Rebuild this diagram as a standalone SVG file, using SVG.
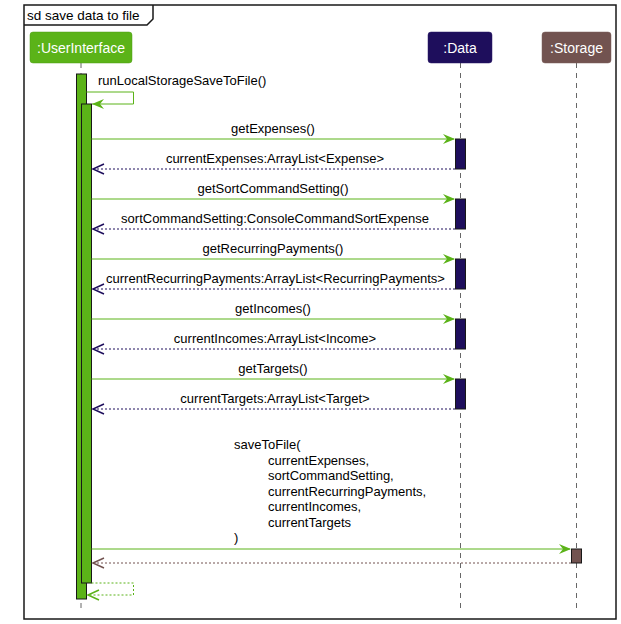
<svg xmlns="http://www.w3.org/2000/svg" width="621" height="624" viewBox="0 0 621 624">
<defs>
<style>
text{font-family:"Liberation Sans",Arial,sans-serif;font-size:13px;fill:#000}
.pt{font-size:14px;fill:#fff;text-anchor:middle}
.c{text-anchor:middle}
.life{stroke:#666;stroke-width:1;stroke-dasharray:5,5;fill:none}
.call{stroke:#5BB318;stroke-width:1;fill:none}
.retD{stroke:#1E0E5C;stroke-width:1;stroke-dasharray:2,2;fill:none}
.retS{stroke:#725350;stroke-width:1;stroke-dasharray:2,2;fill:none}
.retU{stroke:#5BB318;stroke-width:1;stroke-dasharray:2,2;fill:none}
.act{stroke:#181818;stroke-width:1}
</style>
</defs>
<rect width="621" height="624" fill="#fff"/>
<g id="frame">
<rect x="24" y="5" width="592" height="614" fill="none" stroke="#181818" stroke-width="1.5"/>
<path d="M24,25 L147,25 L153,19 L153,5" fill="none" stroke="#181818" stroke-width="1.5"/>
<text x="27" y="20" style="font-size:13.5px">sd save data to file</text>
</g>
<g id="lifelines">
<line class="life" x1="81" y1="63" x2="81" y2="608"/>
<line class="life" x1="460.5" y1="63" x2="460.5" y2="608"/>
<line class="life" x1="576.5" y1="63" x2="576.5" y2="608"/>
</g>
<g id="UserInterface">
<rect x="30" y="32" width="102" height="31" rx="3" fill="#5BB318" stroke="#4f9c15" stroke-width="0.5"/>
<text class="pt" x="81" y="53">:UserInterface</text>
<rect class="act" x="76.5" y="74" width="10" height="525" fill="#5BB318"/>
<rect class="act" x="81.5" y="104" width="10" height="479" fill="#5BB318"/>
</g>
<g id="Data">
<rect x="428" y="32" width="64" height="31" rx="3" fill="#1E0E5C" stroke="#2a1a66" stroke-width="0.5"/>
<text class="pt" x="460" y="53">:Data</text>
<rect class="act" x="455.5" y="139" width="10" height="30" fill="#1E0E5C"/>
<rect class="act" x="455.5" y="199" width="10" height="30" fill="#1E0E5C"/>
<rect class="act" x="455.5" y="259" width="10" height="30" fill="#1E0E5C"/>
<rect class="act" x="455.5" y="319" width="10" height="30" fill="#1E0E5C"/>
<rect class="act" x="455.5" y="379" width="10" height="30" fill="#1E0E5C"/>
</g>
<g id="Storage">
<rect x="542" y="32" width="69" height="31" rx="3" fill="#725350" stroke="#7d605d" stroke-width="0.5"/>
<text class="pt" x="576.5" y="53">:Storage</text>
<rect class="act" x="571.5" y="549" width="10" height="14" fill="#725350"/>
</g>
<g id="connectors">
<path class="call" d="M86.5,92 L133.5,92 L133.5,104 L92,104"/>
<polygon points="92,104 104,99 100,104 104,109" fill="#5BB318"/>
<text x="98" y="85">runLocalStorageSaveToFile()</text>

<line class="call" x1="91.5" y1="139" x2="454" y2="139"/>
<polygon points="455,139 443,134 447,139 443,144" fill="#5BB318"/>
<text class="c" x="273" y="133">getExpenses()</text>
<line class="retD" x1="455" y1="169" x2="93" y2="169"/>
<polyline points="104,164 93,169 104,174" fill="none" stroke="#1E0E5C" stroke-width="1.5"/>
<text class="c" x="275" y="163">currentExpenses:ArrayList&lt;Expense&gt;</text>

<line class="call" x1="91.5" y1="199" x2="454" y2="199"/>
<polygon points="455,199 443,194 447,199 443,204" fill="#5BB318"/>
<text class="c" x="273" y="193">getSortCommandSetting()</text>
<line class="retD" x1="455" y1="229" x2="93" y2="229"/>
<polyline points="104,224 93,229 104,234" fill="none" stroke="#1E0E5C" stroke-width="1.5"/>
<text class="c" x="275" y="223">sortCommandSetting:ConsoleCommandSortExpense</text>

<line class="call" x1="91.5" y1="259" x2="454" y2="259"/>
<polygon points="455,259 443,254 447,259 443,264" fill="#5BB318"/>
<text class="c" x="273" y="253">getRecurringPayments()</text>
<line class="retD" x1="455" y1="289" x2="93" y2="289"/>
<polyline points="104,284 93,289 104,294" fill="none" stroke="#1E0E5C" stroke-width="1.5"/>
<text class="c" x="275.5" y="283">currentRecurringPayments:ArrayList&lt;RecurringPayments&gt;</text>

<line class="call" x1="91.5" y1="319" x2="454" y2="319"/>
<polygon points="455,319 443,314 447,319 443,324" fill="#5BB318"/>
<text class="c" x="273" y="313">getIncomes()</text>
<line class="retD" x1="455" y1="349" x2="93" y2="349"/>
<polyline points="104,344 93,349 104,354" fill="none" stroke="#1E0E5C" stroke-width="1.5"/>
<text class="c" x="275" y="343">currentIncomes:ArrayList&lt;Income&gt;</text>

<line class="call" x1="91.5" y1="379" x2="454" y2="379"/>
<polygon points="455,379 443,374 447,379 443,384" fill="#5BB318"/>
<text class="c" x="273" y="373">getTargets()</text>
<line class="retD" x1="455" y1="409" x2="93" y2="409"/>
<polyline points="104,404 93,409 104,414" fill="none" stroke="#1E0E5C" stroke-width="1.5"/>
<text class="c" x="275" y="403">currentTargets:ArrayList&lt;Target&gt;</text>

<text x="234" y="449">saveToFile(</text>
<text x="268" y="464.5">currentExpenses,</text>
<text x="268" y="480">sortCommandSetting,</text>
<text x="268" y="495.5">currentRecurringPayments,</text>
<text x="268" y="511">currentIncomes,</text>
<text x="268" y="526.5">currentTargets</text>
<text x="234" y="542">)</text>
<line class="call" x1="91.5" y1="549" x2="570" y2="549"/>
<polygon points="571,549 559,544 563,549 559,554" fill="#5BB318"/>
<line class="retS" x1="571" y1="563" x2="93" y2="563"/>
<polyline points="104,558 93,563 104,568" fill="none" stroke="#725350" stroke-width="1.5"/>

<path class="retU" d="M91.5,583 L133.5,583 L133.5,595 L88,595"/>
<polyline points="99,590 88,595 99,600" fill="none" stroke="#5BB318" stroke-width="1.5"/>
</g>
</svg>
